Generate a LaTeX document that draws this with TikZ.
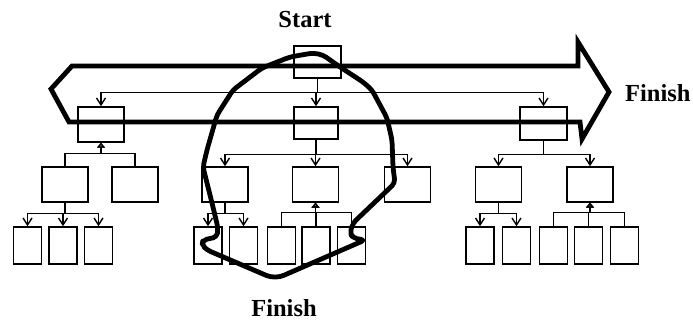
\documentclass[tikz,border=0pt]{standalone}
\usepackage{fontspec}
\setmainfont{Liberation Serif}
\usetikzlibrary{arrows.meta}
\begin{document}
\begin{tikzpicture}[x=1pt,y=-1pt,
  box/.style={draw,line width=1.5pt,inner sep=0pt,rectangle},
  bigbox/.style={box,minimum width=46pt,minimum height=34pt},
  leaf/.style={box,minimum width=28pt,minimum height=37pt},
  arr/.style={line width=1.4pt,-{Straight Barb[length=7pt,width=9pt,line width=1.4pt]}},
  inh/.style={line width=1.4pt,-{Triangle[open,length=5pt,width=8pt,line width=1.4pt]}},
  thick path/.style={line width=4.8pt},
  lbl/.style={font=\fontsize{24.5}{26}\selectfont\bfseries,inner sep=0pt}]
\useasboundingbox (0,0) rectangle (693,320);
% level 0
\node[box,minimum width=47pt,minimum height=32pt] (r) at (317.5,62) {};
% level 1
\node[bigbox,minimum height=35pt] (L) at (101,124.5) {};
\node[bigbox,minimum width=44pt,minimum height=32pt] (M) at (316,123) {};
\node[bigbox,minimum width=47pt,minimum height=33pt] (R) at (543.5,123.5) {};
% level 2
\node[bigbox,minimum height=35pt] (LA) at (65,184.5) {};
\node[bigbox,minimum height=35pt] (LB) at (135,184.5) {};
\node[bigbox,minimum height=35pt] (MA) at (225,184.5) {};
\node[bigbox,minimum height=35pt] (MB) at (315.5,184.5) {};
\node[bigbox,minimum height=35pt] (MC) at (407.5,184.5) {};
\node[bigbox,minimum height=35pt] (RA) at (498.5,184.5) {};
\node[bigbox,minimum height=35pt] (RB) at (590,184.5) {};
% level 3
\node[leaf] (LA1) at (27.5,245.5) {};
\node[leaf] (LA2) at (63,245.5) {};
\node[leaf] (LA3) at (98.5,245.5) {};
\node[leaf] (MA1) at (208,245.5) {};
\node[leaf] (MA2) at (243.5,245.5) {};
\node[leaf] (MB1) at (281.5,245.5) {};
\node[leaf] (MB2) at (316,245.5) {};
\node[leaf] (MB3) at (351.5,245.5) {};
\node[leaf] (RA1) at (480,245.5) {};
\node[leaf] (RA2) at (516.5,245.5) {};
\node[leaf] (RB1) at (553.5,245.5) {};
\node[leaf] (RB2) at (588.5,245.5) {};
\node[leaf] (RB3) at (624.5,245.5) {};
% root connectors
\foreach \c in {L,M,R} \draw[arr] (r.south) -- ++(0,14) -| (\c.north);
% L: inheritance
\foreach \c in {LA,LB} \draw[inh] (\c.north) -- ++(0,-13) -| (L.south);
% M: arrows
\foreach \c in {MA,MB,MC} \draw[arr] (M.south) -- ++(0,15) -| (\c.north);
% R: arrows
\foreach \c in {RA,RB} \draw[arr] (R.south) -- ++(0,14) -| (\c.north);
% level 2 -> 3
\foreach \c in {LA1,LA2,LA3} \draw[arr] (LA.south) -- ++(0,11) -| (\c.north);
\foreach \c in {MA1,MA2} \draw[arr] (MA.south) -- ++(0,11) -| (\c.north);
\foreach \c in {MB1,MB2,MB3} \draw[inh] (\c.north) -- ++(0,-14) -| (MB.south);
\foreach \c in {RA1,RA2} \draw[arr] (RA.south) -- ++(0,11) -| (\c.north);
\foreach \c in {RB1,RB2,RB3} \draw[inh] (\c.north) -- ++(0,-14) -| (RB.south);
% big arrow
\draw[thick path] (72,66) -- (578,66) -- (578,42) -- (609,92) -- (582,139) -- (580,122) -- (69,122) -- (51,89) -- cycle;
% loop
\draw[thick path,rounded corners=4pt,line join=round]
  (393,167) -- (395,183) -- (353,223) -- (350,233) -- (353,238) -- (365,240)
  -- (280,277) -- (270,277) -- (207,250) -- (202,245) -- (203,240) -- (217,237)
  -- (218,228) -- (212,203) -- (203,167) -- (207,150) -- (217,115) -- (233,90)
  -- (262,68) -- (290,57) -- (313,53) -- (323,55) -- (340,67) -- (363,82)
  -- (372,90) -- (387,118) -- (392,140) -- cycle;
% labels
\node[lbl,anchor=base] (start) at (305,28) {Start};
\node[lbl,anchor=base west] (fin1) at (625,102) {Finish};
\node[lbl,anchor=base] (fin2) at (284,316) {Finish};
\end{tikzpicture}
\end{document}
